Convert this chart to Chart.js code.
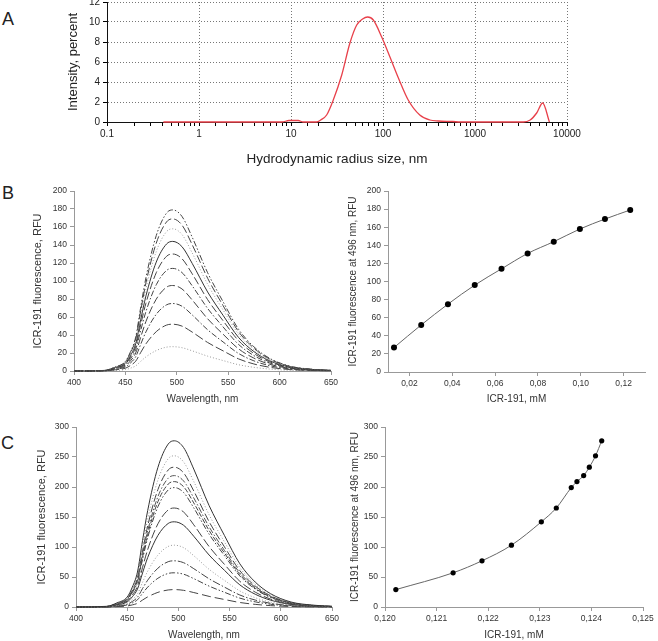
<!DOCTYPE html>
<html>
<head>
<meta charset="utf-8">
<script src="https://cdn.jsdelivr.net/npm/chart.js@4.4.1/dist/chart.umd.min.js"></script>
<style>
  html, body { margin: 0; padding: 0; background: #fff; overflow: hidden; }
  #page { position: relative; width: 658px; height: 641px; }
  canvas { position: absolute; }
  .tag { position: absolute; font: 18px 'Liberation Sans', Arial, sans-serif; color: #222; line-height: 1; }
</style>
</head>
<body>
<div id="page">
  <div class="tag" style="left:2px; top:10px;">A</div>
  <div class="tag" style="left:2px; top:184px;">B</div>
  <div class="tag" style="left:1px; top:434px;">C</div>
  <canvas id="chartA" width="658" height="171" style="left:0; top:0;"></canvas>
  <canvas id="chartB1" width="345" height="229" style="left:0; top:180px;"></canvas>
  <canvas id="chartB2" width="328" height="229" style="left:330px; top:180px;"></canvas>
  <canvas id="chartC1" width="345" height="230" style="left:0; top:415px;"></canvas>
  <canvas id="chartC2" width="328" height="230" style="left:330px; top:415px;"></canvas>
</div>
<script>
const FONT = "'Liberation Sans', Arial, sans-serif";

// A: size distribution
const dlsRadius = [0.41, 1, 8, 9.5, 12, 13.5, 19, 21, 24.4, 28.8, 35.6, 43.7, 51.8, 60, 68, 78.5, 96.8, 119, 147, 188, 251, 323, 400, 575, 690, 3350, 3980, 4680, 5440, 6440];
const dlsIntensity = [0, 0, 0, 0.15, 0.15, 0, 0, 0.2, 0.7, 2.2, 4.7, 7.9, 9.7, 10.3, 10.5, 10.2, 8.5, 6.5, 4.4, 2.2, 0.7, 0.2, 0.1, 0.05, 0, 0, 0.2, 0.9, 1.9, 0];

// B and C spectra, wavelength grid
const wavelengths = [400, 430, 440, 450, 455, 460, 465, 470, 480, 490, 496, 505, 515, 530, 545, 560, 575, 590, 610, 630, 650];

const b179 = [0, 0.7, 4.5, 10.7, 21.5, 37.6, 71.6, 103.8, 150.4, 175.4, 179, 171.8, 148.6, 109.2, 77.0, 46.5, 26.9, 14.3, 5.4, 2.1, 0.7];
const b169 = [0, 0.7, 4.2, 10.1, 20.3, 35.5, 67.6, 98.0, 142.0, 165.6, 169, 162.2, 140.3, 103.1, 72.7, 43.9, 25.4, 13.5, 5.1, 2.0, 0.7];
const b158 = [0, 0.6, 4.0, 9.5, 19.0, 33.2, 63.2, 91.6, 132.7, 154.8, 158, 151.7, 131.1, 96.4, 67.9, 41.1, 23.7, 12.6, 4.7, 1.9, 0.6];
const b144 = [0, 0.6, 3.6, 8.6, 17.3, 30.2, 57.6, 83.5, 121.0, 141.1, 144, 138.2, 119.5, 87.8, 61.9, 37.4, 21.6, 11.5, 4.3, 1.7, 0.6];
const b130 = [0, 0.5, 3.3, 7.8, 15.6, 27.3, 52.0, 75.4, 109.2, 127.4, 130, 124.8, 107.9, 79.3, 55.9, 33.8, 19.5, 10.4, 3.9, 1.6, 0.5];
const b114 = [0, 0.5, 2.9, 6.8, 13.7, 23.9, 45.6, 66.1, 95.8, 111.7, 114, 109.4, 94.6, 69.5, 49.0, 29.6, 17.1, 9.1, 3.4, 1.4, 0.5];
const b95 = [0, 0.4, 2.4, 5.7, 11.4, 20.0, 38.0, 55.1, 79.8, 93.1, 95, 91.2, 78.9, 58.0, 40.9, 24.7, 14.3, 7.6, 2.9, 1.1, 0.4];
const b75 = [0, 0.3, 1.9, 4.5, 9.0, 15.8, 30.0, 43.5, 63.0, 73.5, 75, 72.0, 62.3, 45.8, 32.3, 19.5, 11.3, 6.0, 2.3, 0.9, 0.3];
const b52 = [0, 0.2, 1.3, 3.1, 6.2, 10.9, 20.8, 30.2, 43.7, 51.0, 52, 49.9, 43.2, 31.7, 22.4, 13.5, 7.8, 4.2, 1.6, 0.6, 0.2];
const b27 = [0, 0.1, 0.7, 1.6, 3.2, 5.7, 10.8, 15.7, 22.7, 26.5, 27, 25.9, 22.4, 16.5, 11.6, 7.0, 4.1, 2.2, 0.8, 0.3, 0.1];

const c277 = [0, 1.1, 6.9, 16.6, 33.2, 58.2, 110.8, 160.7, 232.7, 271.5, 277, 265.9, 229.9, 169.0, 119.1, 72.0, 41.6, 22.2, 8.3, 3.3, 1.1];
const c252 = [0, 1.0, 6.3, 15.1, 30.2, 52.9, 100.8, 146.2, 211.7, 247.0, 252, 241.9, 209.2, 153.7, 108.4, 65.5, 37.8, 20.2, 7.6, 3.0, 1.0];
const c233 = [0, 0.9, 5.8, 14.0, 28.0, 48.9, 93.2, 135.1, 195.7, 228.3, 233, 223.7, 193.4, 142.1, 100.2, 60.6, 35.0, 18.6, 7.0, 2.8, 0.9];
const c219 = [0, 0.9, 5.5, 13.1, 26.3, 46.0, 87.6, 127.0, 184.0, 214.6, 219, 210.2, 181.8, 133.6, 94.2, 56.9, 32.9, 17.5, 6.6, 2.6, 0.9];
const c209 = [0, 0.8, 5.2, 12.5, 25.1, 43.9, 83.6, 121.2, 175.6, 204.8, 209, 200.6, 173.5, 127.5, 89.9, 54.3, 31.4, 16.7, 6.3, 2.5, 0.8];
const c199 = [0, 0.8, 5.0, 11.9, 23.9, 41.8, 79.6, 115.4, 167.2, 195.0, 199, 191.0, 165.2, 121.4, 85.6, 51.7, 29.9, 15.9, 6.0, 2.4, 0.8];
const c165 = [0, 0.7, 4.1, 9.9, 19.8, 34.7, 66.0, 95.7, 138.6, 161.7, 165, 158.4, 137.0, 100.7, 71.0, 42.9, 24.8, 13.2, 5.0, 2.0, 0.7];
const c142 = [0, 0.6, 3.6, 8.5, 17.0, 29.8, 56.8, 82.4, 119.3, 139.2, 142, 136.3, 117.9, 86.6, 61.1, 36.9, 21.3, 11.4, 4.3, 1.7, 0.6];
const c103 = [0, 0.4, 2.6, 6.2, 12.4, 21.6, 41.2, 59.7, 86.5, 100.9, 103, 98.9, 85.5, 62.8, 44.3, 26.8, 15.5, 8.2, 3.1, 1.2, 0.4];
const c77 = [0, 0.3, 1.9, 4.6, 9.2, 16.2, 30.8, 44.7, 64.7, 75.5, 77, 73.9, 63.9, 47.0, 33.1, 20.0, 11.6, 6.2, 2.3, 0.9, 0.3];
const c57 = [0, 0.2, 1.4, 3.4, 6.8, 12.0, 22.8, 33.1, 47.9, 55.9, 57, 54.7, 47.3, 34.8, 24.5, 14.8, 8.6, 4.6, 1.7, 0.7, 0.2];
const c29 = [0, 0.1, 0.7, 1.7, 3.5, 6.1, 11.6, 16.8, 24.4, 28.4, 29, 27.8, 24.1, 17.7, 12.5, 7.5, 4.4, 2.3, 0.9, 0.3, 0.1];

// B right / C right: fluorescence at 496 nm vs concentration
const bConc = [0.0128, 0.0255, 0.038, 0.0505, 0.063, 0.0752, 0.0874, 0.0996, 0.1113, 0.1231];
const bFluor = [27, 52, 75, 96, 114, 131, 144, 158, 169, 179];
const cConc = [0.12021, 0.12132, 0.12188, 0.12245, 0.12303, 0.12332, 0.12361, 0.12372, 0.12385, 0.12396, 0.12408, 0.12420];
const cFluor = [29, 57, 77, 103, 142, 165, 199, 209, 219, 233, 252, 277];

const bConcTicks = [0.02, 0.04, 0.06, 0.08, 0.10, 0.12];
const bConcLabels = ['0,02', '0,04', '0,06', '0,08', '0,10', '0,12'];
const cConcTicks = [0.120, 0.121, 0.122, 0.123, 0.124, 0.125];
const cConcLabels = ['0,120', '0,121', '0,122', '0,123', '0,124', '0,125'];

// line styles for the spectra (top curve first)
const DOT = [1, 2], LDASH = [8, 3], DASH = [5, 2], DDOT = [6, 2, 1.5, 2], DDOT2 = [6, 2, 1.5, 2, 1.5, 2];
const bStyles = [
  { dash: DDOT2, color: '#444' }, { dash: LDASH, color: '#444' }, { dash: DOT, color: '#999' },
  { dash: [], color: '#333' }, { dash: LDASH, color: '#444' }, { dash: DDOT, color: '#444' },
  { dash: LDASH, color: '#444' }, { dash: DDOT, color: '#444' }, { dash: [9, 3], color: '#444' },
  { dash: DOT, color: '#999' }
];
const cStyles = [
  { dash: [], color: '#333' }, { dash: DOT, color: '#999' }, { dash: LDASH, color: '#444' },
  { dash: DDOT, color: '#555' }, { dash: DASH, color: '#444' }, { dash: DDOT2, color: '#444' },
  { dash: [9, 3], color: '#444' }, { dash: [], color: '#333' }, { dash: DOT, color: '#999' },
  { dash: [8, 2, 1.5, 2], color: '#444' }, { dash: DDOT2, color: '#444' }, { dash: [9, 4], color: '#444' }
];

function yFit(w) {
  return s => { s.width = w; s.paddingTop = 0; s.paddingBottom = 0; };
}
function xFit(h) {
  return s => { s.height = h; s.paddingLeft = 0; s.paddingRight = 0; };
}

function isDecade(v) {
  const e = Math.log10(v);
  return Math.abs(e - Math.round(e)) < 1e-6;
}

// Panel A
new Chart(document.getElementById('chartA'), {
  type: 'line',
  data: {
    datasets: [{
      data: dlsRadius.map((r, i) => ({ x: r, y: dlsIntensity[i] })),
      borderColor: '#e8404a',
      borderWidth: 1.3,
      pointRadius: 0,
      cubicInterpolationMode: 'monotone',
      clip: 4
    }]
  },
  options: {
    responsive: false,
    animation: false,
    layout: { padding: { left: 62, right: 91, top: 2, bottom: 0 }, autoPadding: false },
    plugins: { legend: { display: false }, tooltip: { enabled: false } },
    scales: {
      x: {
        type: 'logarithmic', min: 0.1, max: 10000,
        afterFit: xFit(49),
        grid: { color: c => isDecade(c.tick.value) ? '#777' : 'rgba(0,0,0,0)', tickColor: '#000', tickLength: 4, tickWidth: 1 },
        border: { color: '#111', width: 1, dash: [1, 2] },
        ticks: {
          autoSkip: false, maxRotation: 0, minRotation: 0, color: '#222', padding: 2,
          font: { family: FONT, size: 10 },
          callback: v => isDecade(v) ? String(v) : ''
        },
        title: { display: true, text: 'Hydrodynamic radius size, nm', color: '#222', font: { family: FONT, size: 13.5 } }
      },
      y: {
        min: 0, max: 12,
        afterFit: yFit(45),
        grid: { color: c => (c.tick.value % 2 === 0 && c.tick.value > 0) ? '#777' : 'rgba(0,0,0,0)', tickColor: '#000', tickLength: 4, tickWidth: 1 },
        border: { color: '#111', width: 1, dash: [1, 2] },
        ticks: {
          stepSize: 1, color: '#222', padding: 3, font: { family: FONT, size: 10 },
          callback: v => v % 2 === 0 ? String(v) : ''
        },
        title: { display: true, text: 'Intensity, percent', color: '#222', font: { family: FONT, size: 13 } }
      }
    }
  }
});

function axisCommon() {
  return {
    grid: { drawOnChartArea: false, color: '#999', tickColor: '#999', tickLength: 4 },
    border: { color: '#999', width: 1 }
  };
}

function spectraChart(id, curves, styles, yMax, yStep, pad, yW, xH) {
  new Chart(document.getElementById(id), {
    type: 'line',
    data: {
      datasets: curves.map((c, i) => ({
        data: c.map((v, j) => ({ x: wavelengths[j], y: v })),
        borderColor: styles[i].color,
        borderDash: styles[i].dash,
        borderWidth: 1,
        pointRadius: 0,
        cubicInterpolationMode: 'monotone',
        clip: 3
      }))
    },
    options: {
      responsive: false,
      animation: false,
      layout: { padding: pad, autoPadding: false },
      plugins: { legend: { display: false }, tooltip: { enabled: false } },
      scales: {
        x: Object.assign(axisCommon(), {
          type: 'linear', min: 400, max: 650,
          afterFit: xFit(xH),
          ticks: { stepSize: 50, maxRotation: 0, color: '#333', padding: 3, font: { family: FONT, size: 8.5 } },
          title: { display: true, text: 'Wavelength, nm', color: '#333', font: { family: FONT, size: 10 } }
        }),
        y: Object.assign(axisCommon(), {
          min: 0, max: yMax,
          afterFit: yFit(yW),
          ticks: { stepSize: yStep, color: '#333', padding: 3, font: { family: FONT, size: 8.5 } },
          title: { display: true, text: 'ICR-191 fluorescence, RFU', color: '#333', font: { family: FONT, size: 11 } }
        })
      }
    }
  });
}

function titrationChart(id, xs, ys, xMin, xMax, tickVals, tickLabels, yMax, yStep, radius, pad, yW, xH) {
  new Chart(document.getElementById(id), {
    type: 'line',
    data: {
      datasets: [{
        data: xs.map((x, i) => ({ x: x, y: ys[i] })),
        borderColor: '#666',
        borderWidth: 1,
        pointRadius: radius,
        pointBackgroundColor: '#000',
        pointBorderColor: '#000',
        pointBorderWidth: 0,
        cubicInterpolationMode: 'monotone'
      }]
    },
    options: {
      responsive: false,
      animation: false,
      layout: { padding: pad, autoPadding: false },
      plugins: { legend: { display: false }, tooltip: { enabled: false } },
      scales: {
        x: Object.assign(axisCommon(), {
          type: 'linear', min: xMin, max: xMax,
          afterFit: xFit(xH),
          afterBuildTicks: s => { s.ticks = tickVals.map(v => ({ value: v })); },
          ticks: {
            maxRotation: 0, autoSkip: false, color: '#333', padding: 3, font: { family: FONT, size: 8.5 },
            callback: (v, i) => tickLabels[i]
          },
          title: { display: true, text: 'ICR-191, mM', color: '#333', font: { family: FONT, size: 10 } }
        }),
        y: Object.assign(axisCommon(), {
          min: 0, max: yMax,
          afterFit: yFit(yW),
          ticks: { stepSize: yStep, color: '#333', padding: 3, font: { family: FONT, size: 8.5 } },
          title: { display: true, text: 'ICR-191 fluorescence at 496 nm, RFU', color: '#333', font: { family: FONT, size: 10 } }
        })
      }
    }
  });
}

spectraChart('chartB1', [b179, b169, b158, b144, b130, b114, b95, b75, b52, b27], bStyles, 200, 20,
  { left: 27, right: 14, top: 11, bottom: 0 }, 47, 38);
titrationChart('chartB2', bConc, bFluor, 0.01, 0.13, bConcTicks, bConcLabels, 200, 20, 3,
  { left: 13, right: 13, top: 11, bottom: 0 }, 45, 37);
spectraChart('chartC1', [c277, c252, c233, c219, c209, c199, c165, c142, c103, c77, c57, c29], cStyles, 300, 50,
  { left: 31, right: 13, top: 12, bottom: 0 }, 45, 38);
titrationChart('chartC2', cConc, cFluor, 0.120, 0.125, cConcTicks, cConcLabels, 300, 50, 2.6,
  { left: 15, right: 15, top: 12, bottom: 0 }, 40, 38);
</script>
</body>
</html>
